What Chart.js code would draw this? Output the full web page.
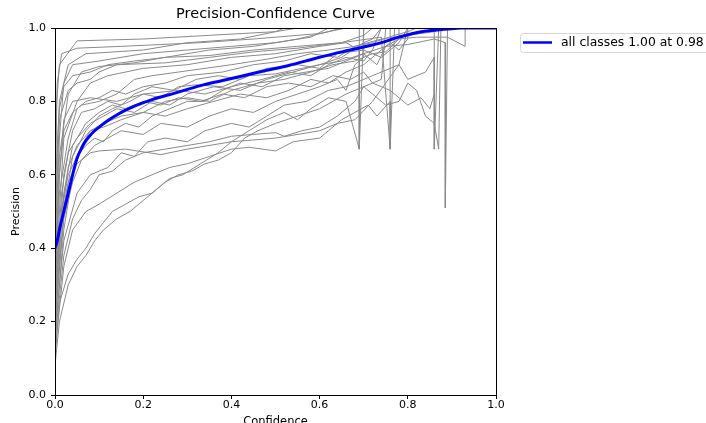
<!DOCTYPE html>
<html>
<head>
<meta charset="utf-8">
<script src="https://cdn.jsdelivr.net/npm/chart.js@4/dist/chart.umd.min.js"></script>
<style>
html,body{margin:0;padding:0;background:#fff;}
#wrap{width:706px;height:423px;position:relative;}
</style>
</head>
<body>
<div id="wrap"><canvas id="c" width="706" height="423"></canvas></div>
<script>
// ---- data ----
const chartTitle = "Precision-Confidence Curve";
const xLabel = "Confidence";
const yLabel = "Precision";
const legendLabel = "all classes 1.00 at 0.98";
const tickValues = [0, 0.2, 0.4, 0.6, 0.8, 1.0];

const allClasses = [[0,0.40],[0.005,0.42],[0.01,0.45],[0.02,0.5],[0.03,0.55],[0.04,0.6],[0.05,0.645],[0.06,0.672],[0.07,0.693],[0.08,0.708],[0.09,0.72],[0.1,0.73],[0.12,0.748],[0.14,0.763],[0.16,0.776],[0.18,0.787],[0.22,0.805],[0.27,0.822],[0.33,0.843],[0.38,0.857],[0.42,0.868],[0.47,0.882],[0.53,0.898],[0.59,0.917],[0.65,0.935],[0.7,0.948],[0.74,0.96],[0.78,0.975],[0.83,0.99],[0.89,0.997],[0.92,1.0],[1.0,1.0]];

const classT1 = [[0,0.5],[0.004,0.8],[0.01,0.9],[0.05,0.965],[0.2,0.97],[0.35,0.98],[0.5,0.99],[0.55,1],[1,1]];
const classT2 = [[0,0.6],[0.005,0.85],[0.015,0.93],[0.05,0.945],[0.15,0.95],[0.33,0.96],[0.45,0.97],[0.6,0.985],[0.66,1],[1,1]];
const classT3 = [[0,0.55],[0.01,0.8],[0.03,0.9],[0.07,0.93],[0.2,0.94],[0.3,0.96],[0.42,0.97],[0.5,0.99],[0.52,1],[1,1]];
const classT4 = [[0,0.4],[0.01,0.7],[0.02,0.85],[0.04,0.9],[0.1,0.91],[0.2,0.93],[0.3,0.94],[0.4,0.95],[0.5,0.96],[0.58,0.975],[0.62,1],[1,1]];
const classT5 = [[0,0.35],[0.01,0.65],[0.03,0.82],[0.06,0.88],[0.1,0.895],[0.18,0.905],[0.25,0.92],[0.35,0.925],[0.45,0.94],[0.55,0.95],[0.65,0.96],[0.7,0.98],[0.72,1],[1,1]];
const classT6 = [[0,0.3],[0.02,0.7],[0.05,0.8],[0.08,0.85],[0.12,0.87],[0.2,0.89],[0.3,0.9],[0.4,0.92],[0.5,0.93],[0.6,0.95],[0.66,0.96],[0.69,0.94],[0.69,0.67],[0.7,1],[1,1]];
const classT7 = [[0,0.45],[0.01,0.75],[0.03,0.83],[0.05,0.85],[0.08,0.86],[0.1,0.88],[0.14,0.9],[0.25,0.905],[0.35,0.92],[0.45,0.935],[0.55,0.945],[0.65,0.96],[0.74,0.975],[0.76,0.67],[0.76,1],[1,1]];
const classM1 = [[0,0.3],[0.01,0.55],[0.03,0.7],[0.05,0.78],[0.07,0.8],[0.1,0.81],[0.13,0.83],[0.16,0.82],[0.2,0.84],[0.25,0.85],[0.3,0.87],[0.38,0.88],[0.45,0.9],[0.52,0.91],[0.58,0.93],[0.64,0.92],[0.68,0.95],[0.74,0.97],[0.8,0.98],[0.86,0.99],[0.88,1],[1,1]];
const classM2 = [[0,0.25],[0.02,0.6],[0.04,0.72],[0.06,0.77],[0.09,0.78],[0.12,0.8],[0.15,0.79],[0.18,0.82],[0.22,0.84],[0.27,0.83],[0.32,0.86],[0.37,0.87],[0.42,0.86],[0.48,0.89],[0.55,0.9],[0.6,0.89],[0.64,0.93],[0.7,0.94],[0.74,0.92],[0.78,0.96],[0.8,1],[1,1]];
const classM3 = [[0,0.2],[0.02,0.5],[0.04,0.65],[0.07,0.72],[0.1,0.76],[0.13,0.78],[0.17,0.8],[0.2,0.82],[0.24,0.81],[0.28,0.84],[0.32,0.845],[0.38,0.84],[0.44,0.87],[0.5,0.875],[0.56,0.89],[0.6,0.9],[0.65,0.91],[0.7,0.93],[0.75,0.95],[0.8,0.955],[0.86,0.97],[0.885,0.96],[0.885,0.51],[0.89,1],[1,1]];
const classM4 = [[0,0.15],[0.02,0.45],[0.04,0.6],[0.06,0.68],[0.08,0.72],[0.11,0.74],[0.15,0.76],[0.2,0.77],[0.25,0.8],[0.3,0.81],[0.35,0.8],[0.4,0.83],[0.46,0.85],[0.52,0.86],[0.58,0.88],[0.63,0.9],[0.68,0.91],[0.72,0.93],[0.75,0.935],[0.78,0.97],[0.82,0.975],[0.89,0.975],[0.93,0.95],[0.93,1],[1,1]];
const classM5 = [[0,0.35],[0.01,0.6],[0.02,0.75],[0.04,0.8],[0.08,0.81],[0.14,0.8],[0.2,0.82],[0.28,0.83],[0.34,0.82],[0.4,0.84],[0.47,0.86],[0.53,0.88],[0.58,0.87],[0.62,0.9],[0.66,0.92],[0.7,0.91],[0.72,0.94],[0.74,1],[1,1]];
const classL1 = [[0,0.25],[0.01,0.45],[0.03,0.58],[0.05,0.63],[0.08,0.66],[0.1,0.665],[0.16,0.67],[0.24,0.655],[0.3,0.67],[0.4,0.69],[0.5,0.7],[0.6,0.72],[0.64,0.74],[0.68,0.75],[0.72,0.8],[0.75,0.85],[0.78,0.9],[0.8,1],[1,1]];
const classL2 = [[0,0.2],[0.02,0.48],[0.04,0.58],[0.06,0.64],[0.09,0.68],[0.12,0.7],[0.15,0.72],[0.2,0.71],[0.24,0.74],[0.3,0.73],[0.35,0.76],[0.4,0.78],[0.45,0.77],[0.5,0.8],[0.55,0.82],[0.6,0.84],[0.64,0.86],[0.66,0.83],[0.68,0.9],[0.7,0.92],[0.7,1],[1,1]];
const classL3 = [[0,0.18],[0.02,0.42],[0.05,0.55],[0.08,0.6],[0.12,0.62],[0.15,0.66],[0.18,0.65],[0.21,0.69],[0.25,0.7],[0.3,0.69],[0.34,0.72],[0.4,0.74],[0.44,0.73],[0.48,0.76],[0.52,0.79],[0.57,0.8],[0.62,0.83],[0.66,0.84],[0.7,0.86],[0.74,0.88],[0.78,0.9],[0.8,0.86],[0.84,0.88],[0.86,0.92],[0.86,0.67],[0.87,1],[1,1]];
const classL4 = [[0,0.15],[0.02,0.38],[0.04,0.48],[0.06,0.53],[0.08,0.56],[0.1,0.6],[0.13,0.61],[0.16,0.64],[0.2,0.66],[0.25,0.67],[0.3,0.68],[0.35,0.69],[0.4,0.705],[0.45,0.71],[0.5,0.715],[0.52,0.705],[0.56,0.72],[0.6,0.73],[0.64,0.76],[0.68,0.8],[0.7,0.84],[0.72,0.82],[0.75,0.79],[0.78,0.8],[0.8,0.85],[0.82,0.83],[0.84,0.76],[0.86,0.74],[0.87,0.67],[0.875,1],[1,1]];
const classL5 = [[0,0.12],[0.02,0.35],[0.04,0.45],[0.07,0.5],[0.1,0.52],[0.14,0.55],[0.18,0.58],[0.22,0.6],[0.26,0.62],[0.3,0.63],[0.35,0.65],[0.4,0.67],[0.44,0.675],[0.5,0.665],[0.54,0.69],[0.6,0.7],[0.62,0.72],[0.65,0.75],[0.68,0.77],[0.71,0.79],[0.73,0.76],[0.76,0.8],[0.76,0.67],[0.77,1],[1,1]];
const classB1 = [[0,0.1],[0.01,0.25],[0.03,0.33],[0.05,0.37],[0.07,0.4],[0.09,0.44],[0.11,0.47],[0.13,0.5],[0.16,0.52],[0.19,0.54],[0.22,0.55],[0.25,0.58],[0.28,0.6],[0.31,0.61],[0.34,0.63],[0.37,0.64],[0.4,0.66],[0.43,0.7],[0.46,0.72],[0.5,0.74],[0.55,0.76],[0.6,0.78],[0.63,0.8],[0.66,0.82],[0.68,0.83],[0.72,0.85],[0.74,0.86],[0.75,1],[1,1]];
const classB2 = [[0,0.08],[0.01,0.2],[0.03,0.3],[0.05,0.35],[0.07,0.38],[0.09,0.42],[0.11,0.45],[0.14,0.48],[0.17,0.5],[0.2,0.53],[0.23,0.56],[0.26,0.59],[0.29,0.6],[0.33,0.63],[0.37,0.66],[0.4,0.69],[0.44,0.72],[0.48,0.75],[0.52,0.77],[0.55,0.75],[0.58,0.78],[0.62,0.81],[0.66,0.8],[0.69,0.67],[0.69,1],[1,1]];
const classX1 = [[0,0.22],[0.015,0.5],[0.03,0.6],[0.05,0.65],[0.07,0.68],[0.09,0.7],[0.11,0.69],[0.13,0.72],[0.16,0.74],[0.19,0.73],[0.22,0.76],[0.26,0.78],[0.3,0.8],[0.34,0.8],[0.38,0.83],[0.42,0.85],[0.47,0.84],[0.52,0.87],[0.57,0.88],[0.62,0.89],[0.66,0.91],[0.7,0.93],[0.73,0.9],[0.75,0.95],[0.78,0.97],[0.78,1],[1,1]];
const classX2 = [[0,0.28],[0.015,0.55],[0.03,0.66],[0.05,0.7],[0.08,0.74],[0.11,0.76],[0.14,0.78],[0.18,0.77],[0.22,0.8],[0.26,0.79],[0.3,0.82],[0.36,0.84],[0.42,0.83],[0.48,0.86],[0.54,0.88],[0.6,0.9],[0.65,0.92],[0.7,0.96],[0.72,0.97],[0.74,1],[1,1]];
const classX3 = [[0,0.3],[0.01,0.6],[0.02,0.72],[0.04,0.77],[0.06,0.79],[0.1,0.8],[0.14,0.82],[0.18,0.86],[0.22,0.87],[0.28,0.88],[0.34,0.89],[0.4,0.9],[0.48,0.915],[0.55,0.93],[0.62,0.94],[0.68,0.95],[0.72,0.96],[0.77,0.98],[0.8,0.99],[0.82,1],[1,1]];
const classX4 = [[0,0.4],[0.005,0.65],[0.01,0.78],[0.02,0.84],[0.04,0.87],[0.08,0.88],[0.12,0.9],[0.18,0.91],[0.25,0.92],[0.35,0.94],[0.45,0.95],[0.55,0.97],[0.62,0.99],[0.65,1],[1,1]];
const classX5 = [[0,0.2],[0.02,0.55],[0.04,0.68],[0.07,0.74],[0.1,0.77],[0.13,0.79],[0.16,0.78],[0.2,0.8],[0.24,0.79],[0.28,0.81],[0.33,0.8],[0.38,0.82],[0.43,0.81],[0.48,0.84],[0.53,0.85],[0.58,0.84],[0.63,0.87],[0.67,0.86],[0.7,0.88],[0.72,0.85],[0.76,0.83],[0.8,0.79],[0.83,0.81],[0.85,0.78],[0.86,0.82],[0.86,1],[1,1]];
const classX6 = [[0,0.25],[0.015,0.5],[0.03,0.62],[0.05,0.68],[0.08,0.72],[0.11,0.73],[0.15,0.75],[0.2,0.77],[0.25,0.76],[0.3,0.78],[0.36,0.8],[0.42,0.82],[0.48,0.81],[0.53,0.83],[0.58,0.86],[0.62,0.85],[0.66,0.88],[0.7,0.9],[0.73,0.93],[0.76,0.96],[0.78,0.94],[0.8,0.97],[0.8,1],[1,1]];

const classCurves = [classT1,classT2,classT3,classT4,classT5,classT6,classT7,classM1,classM2,classM3,classM4,classM5,classL1,classL2,classL3,classL4,classL5,classB1,classB2,classX1,classX2,classX3,classX4,classX5,classX6];

// ---- chart ----
const toXY = arr => arr.map(p => ({x: p[0], y: p[1]}));
const datasets = [{
  label: legendLabel,
  data: toXY(allClasses),
  borderColor: '#0000ff',
  borderWidth: 3,
  pointRadius: 0,
  cubicInterpolationMode: 'monotone'
}];
classCurves.forEach((c, i) => datasets.push({
  label: 'class' + i,
  data: toXY(c),
  borderColor: '#8a8a8a',
  borderWidth: 1,
  pointRadius: 0,
  tension: 0
}));

const frameAndLegend = {
  id: 'frameAndLegend',
  afterDraw(chart) {
    const ctx = chart.ctx, a = chart.chartArea;
    ctx.save();
    ctx.strokeStyle = '#000';
    ctx.lineWidth = 1;
    ctx.strokeRect(Math.round(a.left) + 0.5, Math.round(a.top) + 0.5, Math.round(a.right - a.left), Math.round(a.bottom - a.top));
    // legend box
    const bx = 520.5, by = 33.5, bw = 200, bh = 19, r = 3;
    ctx.beginPath();
    ctx.moveTo(bx + r, by);
    ctx.lineTo(bx + bw - r, by);
    ctx.arcTo(bx + bw, by, bx + bw, by + r, r);
    ctx.lineTo(bx + bw, by + bh - r);
    ctx.arcTo(bx + bw, by + bh, bx + bw - r, by + bh, r);
    ctx.lineTo(bx + r, by + bh);
    ctx.arcTo(bx, by + bh, bx, by + bh - r, r);
    ctx.lineTo(bx, by + r);
    ctx.arcTo(bx, by, bx + r, by, r);
    ctx.closePath();
    ctx.fillStyle = 'rgba(255,255,255,0.8)';
    ctx.fill();
    ctx.strokeStyle = '#d6d6d6';
    ctx.stroke();
    ctx.beginPath();
    ctx.moveTo(523, 42.5);
    ctx.lineTo(552, 42.5);
    ctx.strokeStyle = '#0000ff';
    ctx.lineWidth = 2.5;
    ctx.stroke();
    ctx.fillStyle = '#000';
    ctx.font = '12.4px "DejaVu Sans"';
    ctx.textBaseline = 'middle';
    ctx.textAlign = 'left';
    ctx.fillText(legendLabel, 561, 43);
    ctx.restore();
  }
};

const tickFont = {family: 'DejaVu Sans', size: 11};
new Chart(document.getElementById('c'), {
  type: 'line',
  data: {datasets},
  options: {
    responsive: false,
    animation: false,
    events: [],
    layout: {padding: {left: 0, right: 210, top: 0, bottom: 0}},
    plugins: {
      legend: {display: false},
      tooltip: {enabled: false},
      title: {
        display: true,
        text: chartTitle,
        fullSize: false,
        color: '#000',
        font: {family: 'DejaVu Sans', size: 14.5, weight: 'normal', lineHeight: 1.2},
        padding: {top: 6, bottom: 4.6}
      }
    },
    scales: {
      x: {
        type: 'linear',
        min: 0, max: 1,
        afterBuildTicks: s => { s.ticks = tickValues.map(v => ({value: v})); },
        afterFit: s => { s.height = 28; },
        ticks: {color: '#000', font: tickFont, padding: 0, maxRotation: 0, callback: v => v.toFixed(1)},
        grid: {drawOnChartArea: false, drawTicks: true, tickLength: 4, color: '#000'},
        border: {display: true, color: '#000'},
        title: {display: true, text: xLabel, color: '#000', font: {family: 'DejaVu Sans', size: 11.5}, padding: {top: 0, bottom: -6}}
      },
      y: {
        type: 'linear',
        min: 0, max: 1,
        afterBuildTicks: s => { s.ticks = tickValues.map(v => ({value: v})); },
        afterFit: s => { s.width = 55; },
        ticks: {color: '#000', font: tickFont, padding: 5, callback: v => v.toFixed(1)},
        grid: {drawOnChartArea: false, drawTicks: true, tickLength: 4, color: '#000'},
        border: {display: true, color: '#000'},
        title: {display: true, text: yLabel, color: '#000', font: {family: 'DejaVu Sans', size: 11}, padding: {top: 10, bottom: 0}}
      }
    }
  },
  plugins: [frameAndLegend]
});
</script>
</body>
</html>
